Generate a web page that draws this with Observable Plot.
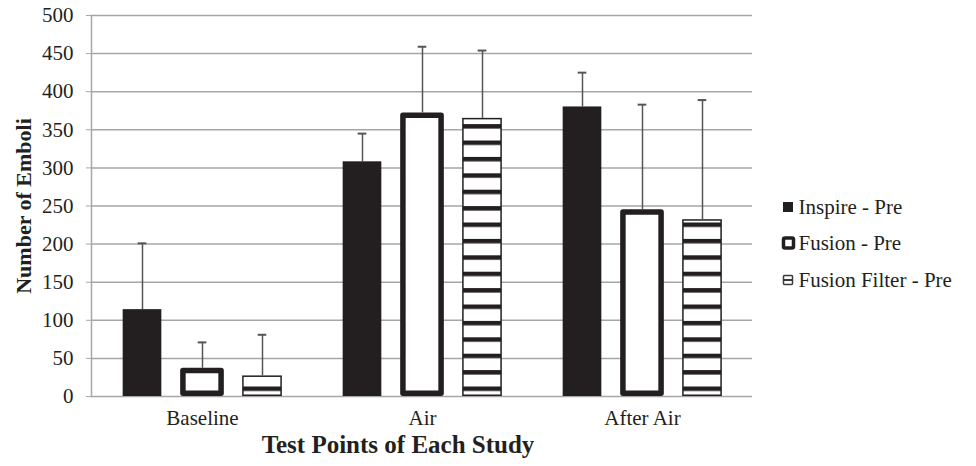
<!DOCTYPE html>
<html><head><meta charset="utf-8">
<script src="https://cdn.jsdelivr.net/npm/d3@7"></script>
<script src="https://cdn.jsdelivr.net/npm/@observablehq/plot@0.6"></script>
<style>
body{margin:0;background:#fff;}
#wrap{position:relative;width:976px;height:466px;color:#231f20;}
</style></head><body><div id="wrap"></div>
<script>
const categories = ["Baseline", "Air", "After Air"];
const seriesNames = ["Inspire - Pre", "Fusion - Pre", "Fusion Filter - Pre"];
const inspireValues = [114, 308, 380];
const fusionValues = [37, 372, 245];
const filterValues = [27, 365, 232];
const inspireUpper = [201, 345, 425];
const fusionUpper = [71, 459, 383];
const filterUpper = [81, 454, 389];
const yTicks = [0, 50, 100, 150, 200, 250, 300, 350, 400, 450, 500];
const xTitle = "Test Points of Each Study";
const yTitle = "Number of Emboli";

const seriesValues = [inspireValues, fusionValues, filterValues];
const seriesUpper = [inspireUpper, fusionUpper, filterUpper];
const rows = seriesNames.map((s, i) => categories.map((c, j) => ({cat: c, series: s, value: seriesValues[i][j], upper: seriesUpper[i][j]})));

const serif = "Liberation Serif, Times New Roman, serif";
const W = 976, H = 466, mL = 91, mR = 224, mT = 15, mB = 70;
const bw = (W - mL - mR) / categories.length;
const step = 60;
function ins(i, w) { const c = bw / 2 + (i - 1) * step; return {insetLeft: c - w / 2, insetRight: bw - c - w / 2}; }
const ink = "#231f20", grid = "#a6a6a6", err = "#555";

const marks = [
  Plot.ruleY(yTicks, {y: d => d, stroke: grid, strokeWidth: 1.5}),
  Plot.frame({anchor: "left", stroke: grid, strokeWidth: 1.5}),
  Plot.axisY({ticks: yTicks, tickSize: 5, tickPadding: 13, stroke: grid, fill: ink, fontSize: 21, label: null, tickFormat: d => String(d)}),
  Plot.axisX({tickSize: 0, tickPadding: 14, fill: ink, fontSize: 21, label: null}),
  Plot.barY(rows[0], {x: "cat", y: "value", fill: ink, ...ins(0, 39)}),
  Plot.barY(rows[1], {x: "cat", y: "value", fill: "white", stroke: ink, strokeWidth: 5.5, strokeLinejoin: "round", insetTop: 2.75, insetBottom: 2.75, ...ins(1, 38.5)}),
  Plot.barY(rows[2], {x: "cat", y: "value", fill: "url(#stripes)", stroke: ink, strokeWidth: 1.5, insetTop: 0.75, insetBottom: 0.75, ...ins(2, 38.5)})
];
rows.forEach((r, i) => {
  marks.push(Plot.ruleX(r, {x: "cat", y1: "value", y2: "upper", dx: (i - 1) * step, stroke: err, strokeWidth: 1.5}));
  marks.push(Plot.tickY(r, {x: "cat", y: "upper", stroke: err, strokeWidth: 2, ...ins(i, 9)}));
});
marks.push(Plot.text([yTitle], {text: d => d, frameAnchor: "left", textAnchor: "middle", lineAnchor: "middle", dx: -68, rotate: -90, fontWeight: "bold", fontSize: 22, fill: ink}));
marks.push(Plot.text([xTitle], {text: d => d, frameAnchor: "bottom", textAnchor: "middle", lineAnchor: "middle", dx: -24, dy: 48, fontWeight: "bold", fontSize: 25, fill: ink}));

// legend entries, placed to the right of the frame
const legDy = [192, 228, 265];
seriesNames.forEach((s, i) => {
  marks.push(Plot.text([s], {text: d => d, frameAnchor: "top-right", textAnchor: "start", lineAnchor: "middle", dx: 46, dy: legDy[i], fontSize: 21, fill: ink}));
});

const plot = Plot.plot({
  width: W, height: H,
  marginLeft: mL, marginRight: mR, marginTop: mT, marginBottom: mB,
  style: {fontFamily: serif, fontSize: "21px", color: ink, background: "white"},
  x: {domain: categories, padding: 0, axis: null},
  y: {domain: [0, 500], axis: null},
  marks
});
const y0 = plot.scale("y").apply(0);
const svg = d3.select(plot);
svg.insert("defs", ":first-child").html(
  `<pattern id="stripes" patternUnits="userSpaceOnUse" x="0" y="${y0 - 9.5}" width="20" height="16.4">
     <rect width="20" height="16.4" fill="white"/><rect width="20" height="4.5" fill="${ink}"/></pattern>`);

// legend swatches
const sx = W - mR + 31;
const sw = svg.append("g");
legDy.forEach((dy, i) => {
  const cy = mT + dy;
  if (i === 0) sw.append("rect").attr("x", sx).attr("y", cy - 5).attr("width", 10).attr("height", 10).attr("fill", ink);
  if (i === 1) sw.append("rect").attr("x", sx + 0.5).attr("y", cy - 5).attr("width", 10).attr("height", 10).attr("rx", 1.5)
    .attr("fill", "white").attr("stroke", ink).attr("stroke-width", 3.5);
  if (i === 2) {
    sw.append("rect").attr("x", sx + 0.5).attr("y", cy - 4.5).attr("width", 9).attr("height", 9).attr("rx", 1)
      .attr("fill", "white").attr("stroke", "#3a3a3a").attr("stroke-width", 1.5);
    sw.append("line").attr("x1", sx + 0.5).attr("x2", sx + 9.5).attr("y1", cy).attr("y2", cy).attr("stroke", "#3a3a3a").attr("stroke-width", 2);
  }
});
document.getElementById("wrap").appendChild(plot);
</script></body></html>
